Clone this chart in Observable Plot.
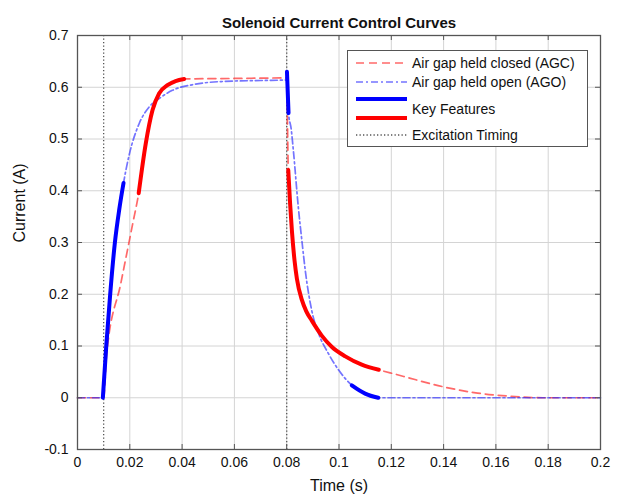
<!DOCTYPE html>
<html><head><meta charset="utf-8">
<script src="https://cdn.jsdelivr.net/npm/d3@7"></script>
<script src="https://cdn.jsdelivr.net/npm/@observablehq/plot@0.6"></script>
<style>
body{margin:0;background:#fff;font-family:"Liberation Sans",Arial,Helvetica,sans-serif;}
#wrap{position:relative;width:622px;height:501px;}
#legend{position:absolute;left:347px;top:50px;width:241px;height:97px;border:1.5px solid #555;background:#fff;box-sizing:border-box;font-size:14px;color:#111;}
#legend svg{position:absolute;left:0;top:0;}
#legend .lab{position:absolute;left:64px;white-space:nowrap;line-height:16px;}
</style></head><body><div id="wrap"></div>
<script>
// ---- data ----
const title = "Solenoid Current Control Curves";
const xLabel = "Time (s)";
const yLabel = "Current (A)";
const xTicks = [0, 0.02, 0.04, 0.06, 0.08, 0.1, 0.12, 0.14, 0.16, 0.18, 0.2];
const xTickLabels = ["0", "0.02", "0.04", "0.06", "0.08", "0.1", "0.12", "0.14", "0.16", "0.18", "0.2"];
const yTicks = [-0.1, 0, 0.1, 0.2, 0.3, 0.4, 0.5, 0.6, 0.7];
const yTickLabels = ["-0.1", "0", "0.1", "0.2", "0.3", "0.4", "0.5", "0.6", "0.7"];
const excitationTimes = [0.01, 0.08];
const legendLabels = ["Air gap held closed (AGC)", "Air gap held open (AGO)", "Key Features", "Excitation Timing"];

// Air gap held closed (AGC)
const agcTime = [0, 0.0100, 0.0111, 0.0166, 0.0211, 0.0234, 0.0261, 0.0287, 0.0312, 0.0344, 0.0375, 0.0408, 0.0600, 0.0800,
  0.0803, 0.0806, 0.0813, 0.0820, 0.0830, 0.0839, 0.0858, 0.0875, 0.0896, 0.0934, 0.0973, 0.1024, 0.1087, 0.1152,
  0.1227, 0.1270, 0.1400, 0.1530, 0.1640, 0.1780, 0.2000];
const agcCurrent = [0, 0, 0.082, 0.222, 0.336, 0.395, 0.491, 0.556, 0.588, 0.604, 0.612, 0.616, 0.617, 0.618,
  0.530, 0.440, 0.375, 0.322, 0.265, 0.230, 0.189, 0.167, 0.149, 0.120, 0.098, 0.080, 0.064, 0.054,
  0.044, 0.038, 0.021, 0.009, 0.0035, 0, 0];

// Air gap held open (AGO)
const agoTime = [0, 0.0097, 0.0110, 0.0125, 0.0143, 0.0160, 0.0176, 0.0198, 0.0236, 0.0274, 0.0312, 0.0363, 0.0452, 0.0550, 0.0700, 0.0799,
  0.0801, 0.0804, 0.0807, 0.0817, 0.0826, 0.0845, 0.0858, 0.0871, 0.0896, 0.0922, 0.0960, 0.0998, 0.1049, 0.1100, 0.1150, 0.2000];
const agoCurrent = [0, 0, 0.100, 0.200, 0.300, 0.365, 0.415, 0.470, 0.530, 0.562, 0.578, 0.594, 0.606, 0.611, 0.613, 0.614,
  0.630, 0.590, 0.550, 0.520, 0.475, 0.365, 0.304, 0.246, 0.168, 0.124, 0.085, 0.054, 0.024, 0.008, 0, 0];

// Key feature intervals [series, from, to]
const keyRanges = [["AGO", 0.0097, 0.0176], ["AGO", 0.0801, 0.0807], ["AGO", 0.1049, 0.1150],
                   ["AGC", 0.0234, 0.0408], ["AGC", 0.0806, 0.1152]];

// ---- build tables ----
const agc = agcTime.map((t, k) => ({t, i: agcCurrent[k]}));
const ago = agoTime.map((t, k) => ({t, i: agoCurrent[k]}));
const series = {AGC: agc, AGO: ago};
const keyRows = keyRanges.flatMap(([s, a, b], seg) =>
  series[s].filter(d => d.t >= a - 1e-9 && d.t <= b + 1e-9).map(d => ({...d, s, seg})));
const keyAgo = keyRows.filter(d => d.s === "AGO");
const keyAgc = keyRows.filter(d => d.s === "AGC");

const W = 622, H = 501, mL = 77, mR = 22, mT = 35, mB = 52;
const innerW = W - mL - mR, innerH = H - mT - mB;
const font = "'Liberation Sans', Arial, Helvetica, sans-serif";

const chart = Plot.plot({
  width: W, height: H, marginLeft: mL, marginRight: mR, marginTop: mT, marginBottom: mB,
  x: {domain: [0, 0.2]},
  y: {domain: [-0.1, 0.7]},
  style: {fontFamily: font, fontSize: "14px", color: "#111", background: "#fff"},
  marks: [
    Plot.gridX(xTicks, {stroke: "#d4d4d4", strokeOpacity: 1}),
    Plot.gridY(yTicks, {stroke: "#d4d4d4", strokeOpacity: 1}),
    Plot.ruleX(excitationTimes, {stroke: "#555", strokeWidth: 1.3, strokeDasharray: "1.3,2.2"}),
    Plot.line(agc, {x: "t", y: "i", curve: "monotone-x", stroke: "#ff2a2a", strokeOpacity: 0.7, strokeWidth: 1.7, strokeDasharray: "8,5"}),
    Plot.line(ago, {x: "t", y: "i", curve: "monotone-x", stroke: "#2a2aff", strokeOpacity: 0.65, strokeWidth: 1.7, strokeDasharray: "7,3,2,3"}),
    Plot.line(keyAgc, {x: "t", y: "i", z: "seg", curve: "monotone-x", stroke: "#ff0000", strokeWidth: 4}),
    Plot.line(keyAgo, {x: "t", y: "i", z: "seg", curve: "monotone-x", stroke: "#0000ff", strokeWidth: 4}),
    Plot.frame({stroke: "#555", strokeWidth: 1.3}),
    Plot.tickX(xTicks, {x: d => d, insetTop: innerH - 5, stroke: "#555"}),
    Plot.tickX(xTicks, {x: d => d, insetBottom: innerH - 5, stroke: "#555"}),
    Plot.tickY(yTicks, {y: d => d, insetRight: innerW - 5, stroke: "#555"}),
    Plot.tickY(yTicks, {y: d => d, insetLeft: innerW - 5, stroke: "#555"}),
    Plot.axisX(xTicks, {tickSize: 0, tickPadding: 8, fontSize: 14, label: null,
      tickFormat: d => xTickLabels[xTicks.indexOf(d)]}),
    Plot.axisY(yTicks, {tickSize: 0, tickPadding: 9, fontSize: 14, label: null,
      tickFormat: d => yTickLabels[yTicks.indexOf(d)]}),
    Plot.text([title], {text: d => d, frameAnchor: "top", dy: -18, fontWeight: "bold", fontSize: 15}),
    Plot.text([xLabel], {text: d => d, frameAnchor: "bottom", dy: 41, fontSize: 16}),
    Plot.text([yLabel], {text: d => d, frameAnchor: "left", dx: -58, rotate: -90, fontSize: 16})
  ]
});
const wrap = document.getElementById("wrap");
wrap.appendChild(chart);

// ---- legend ----
const lg = document.createElement("div");
lg.id = "legend";
const ns = "http://www.w3.org/2000/svg";
const svg = document.createElementNS(ns, "svg");
svg.setAttribute("width", 238); svg.setAttribute("height", 94);
const samples = [
  {y: 12, stroke: "#ff2a2a", op: 0.7, w: 1.7, dash: "8,5"},
  {y: 31, stroke: "#2a2aff", op: 0.65, w: 1.7, dash: "7,3,2,3"},
  {y: 48, stroke: "#0000ff", op: 1, w: 4, dash: null},
  {y: 67, stroke: "#ff0000", op: 1, w: 4, dash: null},
  {y: 84, stroke: "#555", op: 1, w: 1.3, dash: "1.3,2.2"}
];
samples.forEach(s => {
  const l = document.createElementNS(ns, "line");
  l.setAttribute("x1", 8); l.setAttribute("x2", 59);
  l.setAttribute("y1", s.y); l.setAttribute("y2", s.y);
  l.setAttribute("stroke", s.stroke); l.setAttribute("stroke-opacity", s.op);
  l.setAttribute("stroke-width", s.w);
  if (s.dash) l.setAttribute("stroke-dasharray", s.dash);
  svg.appendChild(l);
});
lg.appendChild(svg);
const labTops = [4, 23, 50, 76];
legendLabels.forEach((t, k) => {
  const d = document.createElement("div");
  d.className = "lab"; d.style.top = labTops[k] + "px"; d.textContent = t;
  lg.appendChild(d);
});
wrap.appendChild(lg);
</script></body></html>
